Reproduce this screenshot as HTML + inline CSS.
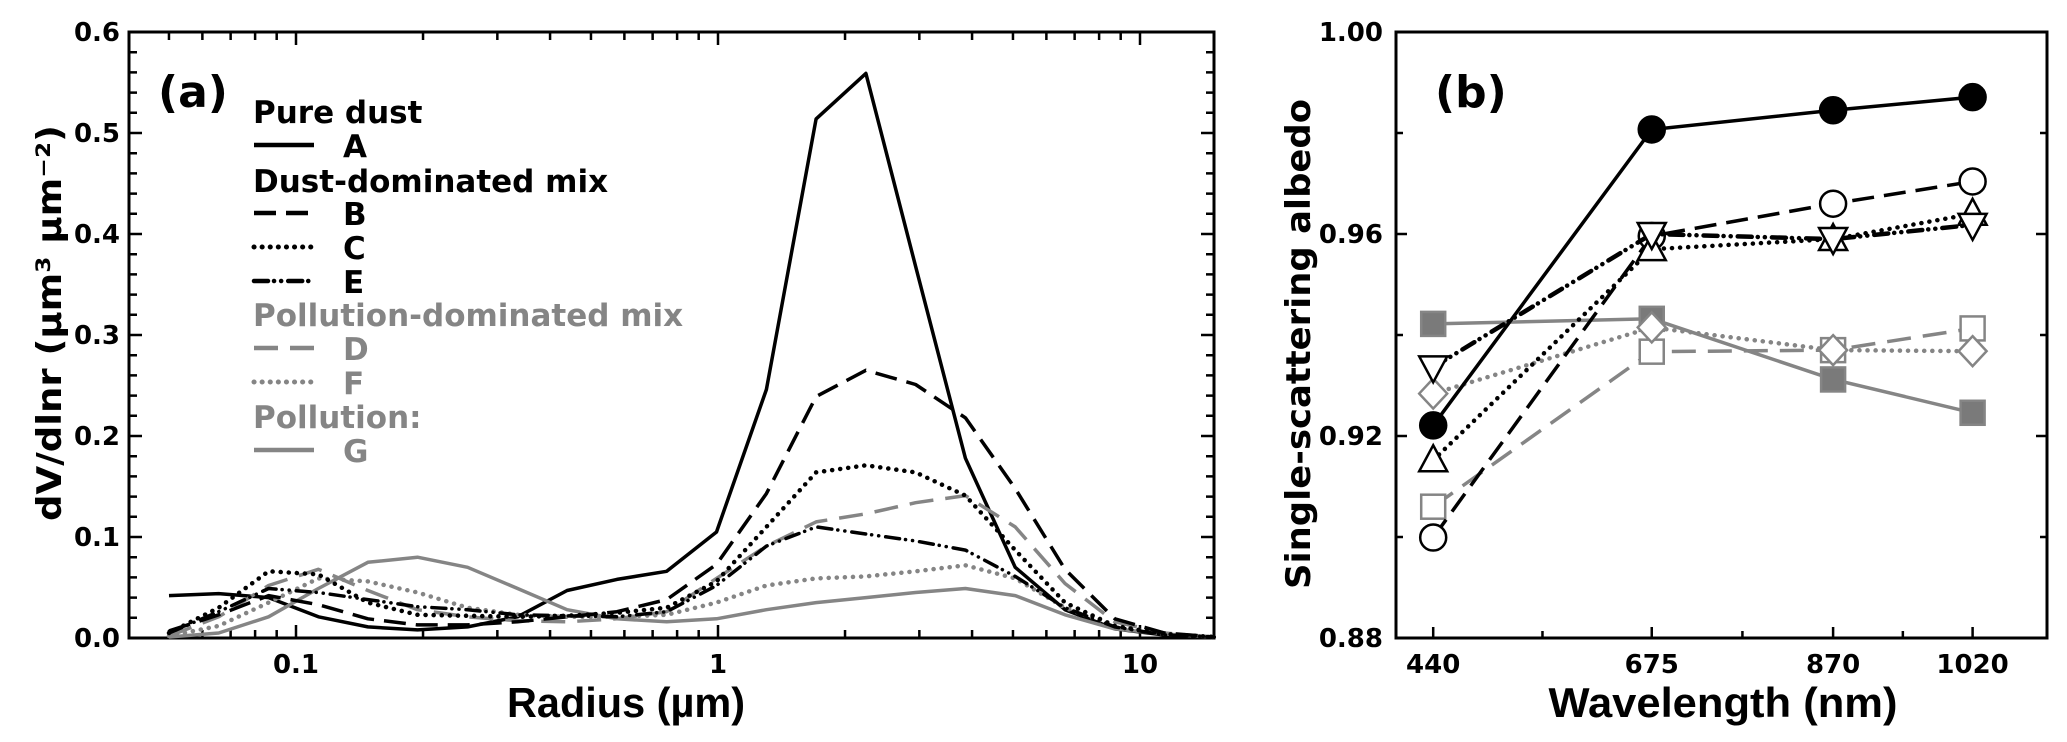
<!DOCTYPE html>
<html><head><meta charset="utf-8"><style>
html,body{margin:0;padding:0;background:#fff;}
svg{display:block;}
.t{font-family:"DejaVu Sans","Liberation Sans",sans-serif;font-weight:bold;}
.l{font-family:"Liberation Sans",sans-serif;font-weight:bold;}
</style></head><body>
<svg id="chart" width="2067" height="742" viewBox="0 0 2067 742" xmlns="http://www.w3.org/2000/svg">
<g id="pa"></g>
<g id="pb"></g>
</svg>
<script>
// ---------- Panel (a) data ----------
const aRadii = [0.05,0.0656,0.0861,0.113,0.148,0.194,0.255,0.335,0.439,0.576,0.756,0.992,1.302,1.708,2.241,2.940,3.857,5.061,6.641,8.713,11.43,15.0];
const aSeriesA = [0.042,0.044,0.040,0.021,0.011,0.008,0.011,0.021,0.047,0.058,0.066,0.105,0.246,0.514,0.559,0.368,0.178,0.070,0.028,0.009,0.003,0.001];
const aSeriesB = [0.007,0.023,0.042,0.033,0.019,0.013,0.013,0.016,0.021,0.026,0.038,0.073,0.143,0.239,0.265,0.251,0.218,0.148,0.068,0.019,0.005,0.001];
const aSeriesC = [0.005,0.030,0.066,0.063,0.035,0.023,0.022,0.021,0.022,0.025,0.030,0.056,0.110,0.164,0.171,0.164,0.141,0.087,0.035,0.012,0.004,0.001];
const aSeriesE = [0.005,0.026,0.049,0.045,0.038,0.031,0.028,0.023,0.022,0.021,0.026,0.052,0.091,0.110,0.103,0.096,0.087,0.061,0.030,0.011,0.003,0.001];
const aSeriesD = [0.002,0.021,0.052,0.068,0.047,0.028,0.021,0.017,0.016,0.019,0.026,0.059,0.091,0.115,0.123,0.134,0.141,0.110,0.054,0.016,0.005,0.001];
const aSeriesF = [0.002,0.012,0.035,0.059,0.056,0.045,0.030,0.023,0.021,0.021,0.023,0.035,0.052,0.059,0.061,0.066,0.072,0.059,0.030,0.012,0.004,0.001];
const aSeriesG = [0.001,0.005,0.021,0.049,0.075,0.080,0.070,0.049,0.028,0.019,0.016,0.019,0.028,0.035,0.040,0.045,0.049,0.042,0.023,0.009,0.004,0.001];
const aYTicks = [0.0,0.1,0.2,0.3,0.4,0.5,0.6];
const aYTickLabels = ["0.0","0.1","0.2","0.3","0.4","0.5","0.6"];
const aXTicks = [0.1,1,10];
const aXTickLabels = ["0.1","1","10"];
// ---------- Panel (b) data ----------
const bWavelengths = [440,675,870,1020];
const bSeriesA = [0.9221,0.9807,0.9845,0.9871];
const bSeriesB = [0.8999,0.9596,0.9660,0.9704];
const bSeriesC = [0.9152,0.9570,0.9590,0.9640];
const bSeriesE = [0.9336,0.9600,0.9590,0.9618];
const bSeriesG = [0.9422,0.9432,0.9312,0.9246];
const bSeriesD = [0.9060,0.9367,0.9370,0.9413];
const bSeriesF = [0.9284,0.9415,0.9370,0.9368];
const bYTicks = [0.88,0.92,0.96,1.00];
const bYTickLabels = ["0.88","0.92","0.96","1.00"];
const bXTickLabels = ["440","675","870","1020"];

const NS="http://www.w3.org/2000/svg";
function mk(parent,tag,attrs){const e=document.createElementNS(NS,tag);for(const k in attrs)e.setAttribute(k,attrs[k]);parent.appendChild(e);return e;}
const GRAY="#858585", BLK="#000";

// axes panel a
const aL=129,aR=1214,aT=32,aB=638;
function xa(r){return 296+(Math.log10(r)+1)*422;}
function ya(v){return aB-v/0.6*(aB-aT);}
// axes panel b
const bL=1396,bR=2047,bT=32,bB=638;
function xb(w){return bL+(w-400)*0.93;}
function yb(v){return bB-(v-0.88)/0.12*(bB-bT);}

const pa=document.getElementById('pa'), pb=document.getElementById('pb');

// ---- panel a frame & ticks
let fr=mk(pa,'rect',{x:aL,y:aT,width:aR-aL,height:aB-aT,fill:'none',stroke:'#000','stroke-width':3});


let tk='';
for(let i=0;i<=30;i++){const v=i*0.02;const y=ya(v);const len=(i%5===0)?13:8;tk+=`M${aL},${y}h${len}M${aR},${y}h${-len}`;}
for(let d=-2;d<=1;d++){for(let m=1;m<=9;m++){const r=m*Math.pow(10,d);const x=xa(r);if(x<aL+1||x>aR-1)continue;const len=(m===1)?13:8;tk+=`M${x},${aB}v${-len}M${x},${aT}v${len}`;}}
let tka=mk(pa,'path',{d:tk,stroke:'#000','stroke-width':2.5,fill:'none'});


aYTicks.forEach((v,i)=>{const t=mk(pa,'text',{x:120,y:ya(v)+9,'text-anchor':'end','font-size':26,class:'t'});t.textContent=aYTickLabels[i];

});
aXTicks.forEach((v,i)=>{const t=mk(pa,'text',{x:xa(v),y:673,'text-anchor':'middle','font-size':26,class:'t'});t.textContent=aXTickLabels[i];

});

// series panel a
const aStyles=[
 ['series-a-pure-dust',aSeriesA,BLK,''],
 ['series-g-pollution',aSeriesG,GRAY,''],
 ['series-f',aSeriesF,GRAY,'0.1 8'],
 ['series-d',aSeriesD,GRAY,'24 12'],
 ['series-e',aSeriesE,BLK,'14 6 0.1 7 0.1 7'],
 ['series-c',aSeriesC,BLK,'0.1 8'],
 ['series-b',aSeriesB,BLK,'22 10'],
];
aStyles.forEach(s=>{
 const pts=s[1].map((v,i)=>xa(aRadii[i]).toFixed(1)+','+ya(v).toFixed(1)).join(' ');
 const p=mk(pa,'polyline',{points:pts,fill:'none',stroke:s[2],'stroke-width':(s[3].startsWith('0.1')?4.5:3.5),'stroke-dasharray':s[3]||'none','stroke-linecap':s[3].startsWith('0.1')||s[3].includes('0.1')?'round':'butt','stroke-linejoin':'round'});
 
 
});

// legend a
const legRows=[
 ['Pure dust',123,BLK,null],['A',157,BLK,''],['Dust-dominated mix',192,BLK,null],['B',225,BLK,'22 10'],['C',259,BLK,'0.1 8'],['E',293,BLK,'14 6 0.1 7 0.1 7'],
 ['Pollution-dominated mix',326,GRAY,null],['D',360,GRAY,'24 12'],['F',394,GRAY,'0.1 8'],['Pollution:',428,GRAY,null],['G',462,GRAY,'']
];
legRows.forEach(r=>{
 if(r[3]===null){const t=mk(pa,'text',{x:253,y:r[1],'font-size':31,fill:r[2],class:'t'});t.textContent=r[0];
  
  }
 else{const ln=mk(pa,'line',{x1:254,x2:314,y1:r[1]-12,y2:r[1]-12,stroke:r[2],'stroke-width':r[3].startsWith('0.1')?5:4.5,'stroke-dasharray':r[3]||'none','stroke-linecap':r[3].includes('0.1')?'round':'butt'});
  
  
  const t=mk(pa,'text',{x:343,y:r[1],'font-size':31,fill:r[2],class:'t'});t.textContent=r[0];
  
  }
});
let la=mk(pa,'text',{x:158,y:107,'font-size':44,class:'t'});la.textContent='(a)';


let xta=mk(pa,'text',{x:626,y:717,'text-anchor':'middle','font-size':42,class:'l',textLength:238,lengthAdjust:'spacingAndGlyphs'});xta.textContent='Radius (µm)';


let yta=mk(pa,'text',{x:0,y:0,'text-anchor':'middle','font-size':34,class:'t',transform:'translate(61,323) rotate(-90)',textLength:396,lengthAdjust:'spacingAndGlyphs'});yta.textContent='dV/dlnr (µm³ µm⁻²)';



// ---- panel b frame & ticks
let frb=mk(pb,'rect',{x:bL,y:bT,width:bR-bL,height:bB-bT,fill:'none',stroke:'#000','stroke-width':3});


let tb='';
for(let i=0;i<=6;i++){const v=0.88+i*0.02;const y=yb(v);const len=(i%2===0)?11:7;tb+=`M${bL},${y}h${len}M${bR},${y}h${-len}`;}
bWavelengths.forEach(w=>{tb+=`M${xb(w)},${bB}v-11`;});
for(let i=0;i<bWavelengths.length-1;i++){tb+=`M${xb((bWavelengths[i]+bWavelengths[i+1])/2)},${bB}v-7`;}
let tkb=mk(pb,'path',{d:tb,stroke:'#000','stroke-width':2.5,fill:'none'});


bYTicks.forEach((v,i)=>{const t=mk(pb,'text',{x:1383,y:yb(v)+9,'text-anchor':'end','font-size':26,class:'t'});t.textContent=bYTickLabels[i];

});
bWavelengths.forEach((w,i)=>{const t=mk(pb,'text',{x:xb(w),y:673,'text-anchor':'middle','font-size':26,class:'t'});t.textContent=bXTickLabels[i];

});

function marker(g,type,x,y,stroke,fill){
 let e;
 if(type==='circle')e=mk(g,'circle',{cx:x,cy:y,r:13,fill:fill,stroke:stroke,'stroke-width':2.5});
 else if(type==='square')e=mk(g,'rect',{x:x-12,y:y-12,width:24,height:24,fill:fill,stroke:stroke,'stroke-width':2.5});
 else if(type==='up')e=mk(g,'polygon',{points:`${x},${y-15} ${x+14},${y+11} ${x-14},${y+11}`,fill:fill,stroke:stroke,'stroke-width':2.5});
 else if(type==='down')e=mk(g,'polygon',{points:`${x},${y+15} ${x+14},${y-11} ${x-14},${y-11}`,fill:fill,stroke:stroke,'stroke-width':2.5});
 else e=mk(g,'polygon',{points:`${x},${y-15} ${x+14},${y} ${x},${y+15} ${x-14},${y}`,fill:fill,stroke:stroke,'stroke-width':2.5});
 return e;
}
const bStyles=[
 ['ssa-series-g',bSeriesG,GRAY,'', 'square',GRAY,'#7a7a7a'],
 ['ssa-series-d',bSeriesD,GRAY,'24 12','square',GRAY,'#fff'],
 ['ssa-series-f',bSeriesF,GRAY,'0.1 8','diamond',GRAY,'#fff'],
 ['ssa-series-b',bSeriesB,BLK,'22 10','circle',BLK,'#fff'],
 ['ssa-series-c',bSeriesC,BLK,'0.1 8','up',BLK,'#fff'],
 ['ssa-series-e',bSeriesE,BLK,'14 6 0.1 7 0.1 7','down',BLK,'#fff'],
 ['ssa-series-a',bSeriesA,BLK,'','circle',BLK,'#000'],
];
bStyles.forEach(s=>{
 const g=mk(pb,'g',{});
 
 
 const pts=s[1].map((v,i)=>xb(bWavelengths[i]).toFixed(1)+','+yb(v).toFixed(1)).join(' ');
 const p=mk(g,'polyline',{points:pts,fill:'none',stroke:s[2],'stroke-width':s[3].includes('0.1')?4.5:3.5,'stroke-dasharray':s[3]||'none','stroke-linecap':s[3].includes('0.1')?'round':'butt'});
 
 
 s[1].forEach((v,i)=>{const m=marker(g,s[4],xb(bWavelengths[i]),yb(v),s[5],s[6]);
  
  });
});
let lb=mk(pb,'text',{x:1435,y:107,'font-size':44,class:'t'});lb.textContent='(b)';


let xtb=mk(pb,'text',{x:1723,y:717,'text-anchor':'middle','font-size':42,class:'l',textLength:349,lengthAdjust:'spacingAndGlyphs'});xtb.textContent='Wavelength (nm)';


let ytb=mk(pb,'text',{x:0,y:0,'text-anchor':'middle','font-size':34,class:'t',transform:'translate(1310,344) rotate(-90)',textLength:490,lengthAdjust:'spacingAndGlyphs'});ytb.textContent='Single-scattering albedo';


</script>
</body></html>
